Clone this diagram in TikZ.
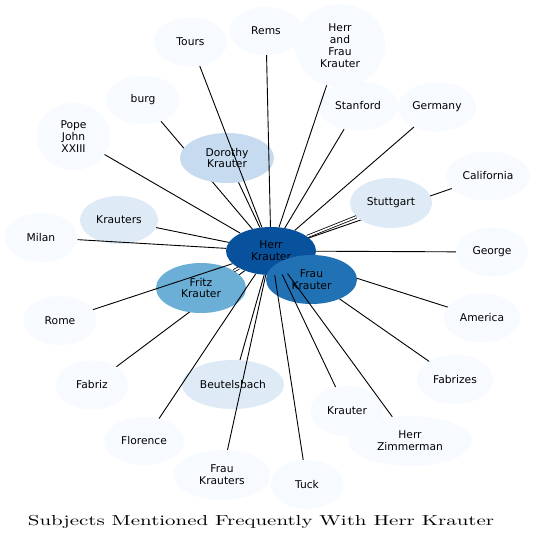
\documentclass[tikz,border=0pt]{standalone}
\usepackage{fontspec,graphicx}
\newfontfamily\dejavu{DejaVu Sans}
\usetikzlibrary{shapes.geometric}
\definecolor{blA}{HTML}{F7FBFF}
\definecolor{blB}{HTML}{DEEBF7}
\definecolor{blC}{HTML}{C6DBEF}
\definecolor{blD}{HTML}{6BAED6}
\definecolor{blE}{HTML}{2171B5}
\definecolor{blF}{HTML}{08519C}

\begin{document}
\begin{tikzpicture}[x=1pt,y=-1pt,
  subj/.style={ellipse,fill=blA,inner sep=0pt,minimum width=73pt,minimum height=49pt,
    align=center,font=\dejavu\fontsize{10.7}{11.8}\selectfont},
  link/.style={line width=0.9pt},
  multi/.style={double,double distance=1.6pt,line width=0.8pt}]
\useasboundingbox[fill=white] (0,0) rectangle (536,544);
\coordinate (herrc) at (271,251);
\path (herrc) node[subj,minimum width=90pt,minimum height=48pt] (herr) {};
\draw[link] (herr) -- (143,100) coordinate (burgc);
\draw[link] (herr) -- (488,176) coordinate (califc);
\draw[link] (herr) -- (482,318) coordinate (amerc);
\draw[link] (herr) -- (455,379.5) coordinate (fabzc);
\draw[link] (herr) -- (92,385) coordinate (fabrc);
\node[subj] (burg) at (burgc) {burg};
\node[subj,minimum width=84pt] (calif) at (califc) {California};
\node[subj,minimum width=76pt] (amer) at (amerc) {America};
\node[subj,minimum width=76pt] (fabz) at (fabzc) {Fabrizes};
\node[subj] (fabr) at (fabrc) {Fabriz};
\node[subj] (tours) at (190.5,42) {Tours};
\node[subj,minimum height=48pt] (rems) at (266,31) {Rems};
\node[subj,minimum width=90pt,minimum height=83pt] (hfk) at (340,45.5) {Herr\\and\\Frau\\Krauter};
\node[subj,minimum width=80pt] (stan) at (358,106) {Stanford};
\node[subj,minimum width=78pt] (germ) at (437,107) {Germany};
\node[subj,fill=blB,minimum width=82pt,minimum height=50pt] (stutt) at (391,203) {Stuttgart};
\node[subj,minimum width=72pt] (george) at (492,252) {George};
\node[subj,minimum width=124pt,minimum height=50pt] (zimm) at (410,441) {Herr\\Zimmerman};
\node[subj,minimum height=50pt] (krauter) at (347,411) {Krauter};
\node[subj] (tuck) at (307,484.5) {Tuck};
\node[subj,minimum width=97pt,minimum height=50pt] (fkrs) at (222,475) {Frau\\Krauters};
\node[subj,minimum width=80pt,minimum height=48pt] (flor) at (144,441) {Florence};
\node[subj,fill=blB,minimum width=102pt] (beut) at (233,384.5) {Beutelsbach};
\node[subj] (rome) at (60,320.5) {Rome};
\node[subj] (milan) at (41,237.5) {Milan};
\node[subj,fill=blB,minimum width=78pt,minimum height=48pt] (krs) at (119,220) {Krauters};
\node[subj,minimum height=67pt] (pope) at (73.5,136.5) {Pope\\John\\XXIII};
\node[subj,fill=blC,minimum width=94pt,minimum height=50pt] (doro) at (227,158) {Dorothy\\Krauter};
\node[subj,fill=blD,minimum width=90pt,minimum height=50pt] (fritz) at (201,288) {Fritz\\Krauter};
\node[subj,fill=blF,minimum width=90pt,minimum height=48pt] (herr) at (herrc) {Herr\\Krauter};
\node[subj,fill=blE,minimum width=91pt,minimum height=49pt] (frau) at (311.5,279.5) {Frau\\Krauter};
\draw[link] (herr) -- (tours);
\draw[link] (herr) -- (rems);
\draw[link] (herr) -- (hfk);
\draw[link] (herr) -- (stan);
\draw[link] (herr) -- (germ);
\draw[multi] (herr) -- (stutt);
\draw[link] (herr) -- (george);
\draw[link] (herr) -- (zimm);
\draw[link] (herr) -- (krauter);
\draw[link] (herr) -- (tuck);
\draw[link] (herr) -- (fkrs);
\draw[link] (herr) -- (beut);
\draw[link] (herr) -- (flor);
\draw[multi] (herr) -- (fritz);
\draw[link] (herr) -- (rome);
\draw[link] (herr) -- (milan);
\draw[link] (herr) -- (krs);
\draw[link] (herr) -- (pope);
\draw[link] (herr) -- (doro);
\node[anchor=base,inner sep=0pt] (title) at (261,525.5)
  {\resizebox{466pt}{10.2pt}{Subjects Mentioned Frequently With Herr Krauter}};
\end{tikzpicture}
\end{document}
